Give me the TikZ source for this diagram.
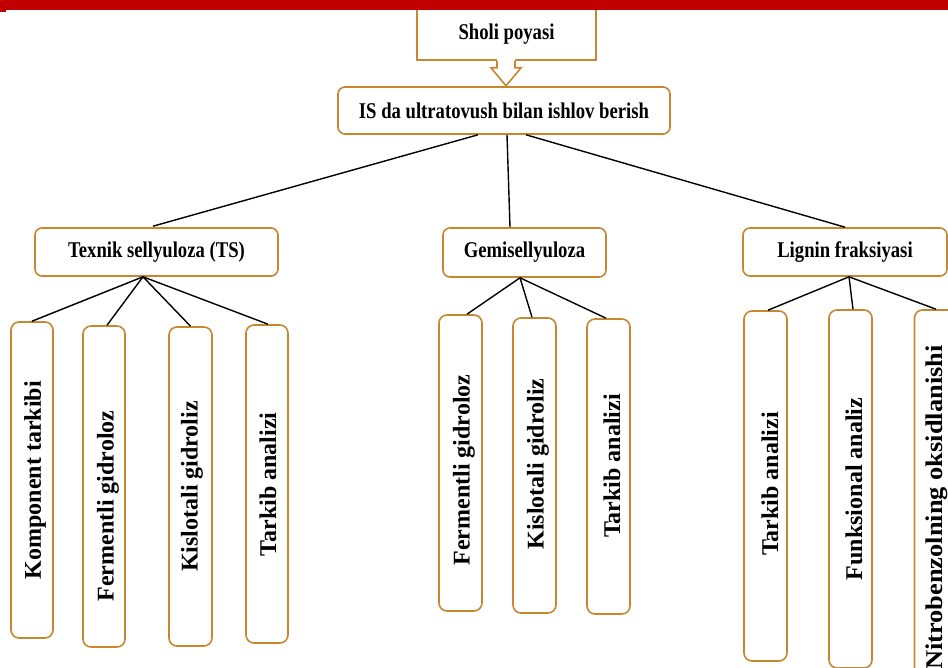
\documentclass[tikz,border=0pt]{standalone}
\usepackage{fontspec}
\setmainfont{Liberation Serif}
\newfontfamily\condfont{Liberation Serif}[FakeStretch=0.83]
\newfontfamily\wideserif{Liberation Serif}[FakeStretch=1.1]
\usetikzlibrary{calc}
\definecolor{boxorange}{RGB}{201,134,48}
\definecolor{barred}{RGB}{192,0,0}
\begin{document}
\begin{tikzpicture}[x=1pt,y=-1pt,
  box/.style={draw=boxorange, line width=1.6pt, rounded corners=7pt, fill=white, inner sep=0pt,
    font=\condfont\bfseries\fontsize{22.5}{26}\selectfont},
  vbox/.style={draw=boxorange, line width=1.6pt, rounded corners=8pt, fill=white, inner sep=0pt},
  vtext/.style={font=\bfseries\fontsize{24}{26}\selectfont, rotate=90, inner sep=0pt},
  link/.style={draw=black, line width=1.4pt}]
\useasboundingbox (0,0) rectangle (948,668);
\clip (0,0) rectangle (948,668);
\fill[white] (0,0) rectangle (948,668);

% top level
\node[box, rounded corners=0pt, minimum width=179pt, minimum height=52pt] (sholi) at (506.5,34) {Sholi poyasi};
\fill[white] ($(sholi.south)+(-9.5,-2)$) -- ($(sholi.south)+(-9.5,7)$) -- ($(sholi.south)+(-15.5,7)$) -- ($(sholi.south)+(-0.5,25)$) -- ($(sholi.south)+(14.5,7)$) -- ($(sholi.south)+(8.5,7)$) -- ($(sholi.south)+(8.5,-2)$) -- cycle;
\draw[boxorange, line width=1.6pt, line join=miter] ($(sholi.south)+(-9.5,0)$) -- ($(sholi.south)+(-9.5,7)$) -- ($(sholi.south)+(-15.5,7)$) -- ($(sholi.south)+(-0.5,25)$) -- ($(sholi.south)+(14.5,7)$) -- ($(sholi.south)+(8.5,7)$) -- ($(sholi.south)+(8.5,0)$);
\fill[barred] (0,0) rectangle (948,10);
\fill[barred] (0,0) rectangle (6,12);

\node[box, minimum width=332pt, minimum height=47pt] (is) at (504,110.5) {IS da ultratovush bilan ishlov berish};

% second level
\node[box, minimum width=243pt, minimum height=48pt] (ts) at (156.5,252) {Texnik sellyuloza (TS)};
\node[box, minimum width=163pt, minimum height=49pt] (gemi) at (524.5,252.5) {Gemisellyuloza};
\node[box, minimum width=204pt, minimum height=48pt] (lig) at (845,252) {Lignin fraksiyasi};

% third level boxes
\node[vbox, minimum width=42pt, minimum height=316pt] (c1) at (32,480) {};
\node[vbox, minimum width=42pt, minimum height=321pt] (c2) at (104,486.5) {};
\node[vbox, minimum width=43pt, minimum height=319pt] (c3) at (190.5,486.5) {};
\node[vbox, minimum width=42pt, minimum height=318pt] (c4) at (267,484) {};
\node[vbox, minimum width=43pt, minimum height=296pt] (g1) at (460.5,463) {};
\node[vbox, minimum width=43pt, minimum height=295pt] (g2) at (534.5,465.5) {};
\node[vbox, minimum width=43pt, minimum height=295pt] (g3) at (608.5,466.5) {};
\node[vbox, minimum width=43pt, minimum height=350pt] (l1) at (765.5,486) {};
\node[vbox, minimum width=43pt, minimum height=358pt] (l2) at (850.5,489) {};
\node[vbox, minimum width=43pt, minimum height=370pt] (l3) at (936,495) {};

% vertical texts
\node[vtext] (t1) at (35,480) {Komponent tarkibi};
\node[vtext] (t2) at (108,506) {Fermentli gidroloz};
\node[vtext] (t3) at (192,486.5) {Kislotali gidroliz};
\node[vtext] (t4) at (268,484.5) {Tarkib analizi};
\node[vtext] (t5) at (464,470) {Fermentli gidroloz};
\node[vtext] (t6) at (538,464) {Kislotali gidroliz};
\node[vtext] (t7) at (612,466) {Tarkib analizi};
\node[vtext] (t8) at (770,484) {Tarkib analizi};
\node[vtext] (t9) at (854,489) {Funksional analiz};
\node[vtext, font=\wideserif\bfseries\fontsize{24}{26}\selectfont] (t10) at (937,507.5) {Nitrobenzolning oksidlanishi};

% connectors
\draw[link] ($(is.south)+(-26,0)$) -- ($(ts.north)+(-3.5,-1)$);
\draw[link] ($(is.south)+(3,0)$) -- ($(gemi.north)+(-14.5,0)$);
\draw[link] ($(is.south)+(22,0)$) -- ($(lig.north)+(0,0)$);

\draw[link] ($(ts.south)+(-13.5,0)$) -- (c1.north);
\draw[link] ($(ts.south)+(-13.5,0)$) -- ($(c2.north)+(3,0)$);
\draw[link] ($(ts.south)+(-13.5,0)$) -- (c3.north);
\draw[link] ($(ts.south)+(-13.5,0)$) -- ($(c4.north)+(1,0)$);

\draw[link] ($(gemi.south)+(-4.5,0)$) -- ($(g1.north)+(6.5,0)$);
\draw[link] ($(gemi.south)+(-4.5,0)$) -- ($(g2.north)+(-2.5,0)$);
\draw[link] ($(gemi.south)+(-4.5,0)$) -- ($(g3.north)+(-2.5,0)$);

\draw[link] ($(lig.south)+(4,0)$) -- ($(l1.north)+(2.5,0)$);
\draw[link] ($(lig.south)+(4,0)$) -- ($(l2.north)+(2.5,0)$);
\draw[link] ($(lig.south)+(4,0)$) -- (l3.north);
\end{tikzpicture}
\end{document}
